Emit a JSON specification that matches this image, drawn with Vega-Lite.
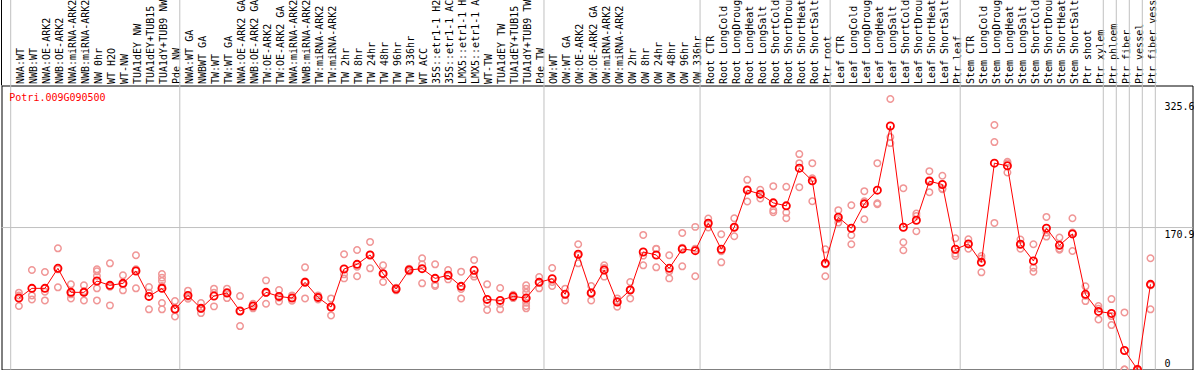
{
  "$schema": "https://vega.github.io/schema/vega-lite/v6.json",
  "width": 1191,
  "height": 284,
  "autosize": {"type": "none"},
  "padding": {"left": 1.5, "top": 85.5, "right": 1.5, "bottom": 0.5},
  "background": "white",
  "config": {
    "view": {"stroke": "black", "strokeWidth": 1},
    "font": "DejaVu Sans Mono",
    "axis": {"labelFont": "DejaVu Sans Mono", "labelFontSize": 10, "labelColor": "black", "title": null}
  },
  "datasets": {
    "mean": [
      {"c": "NWA:WT", "v": 86.0}, {"c": "NWB:WT", "v": 97.7}, {"c": "NWA:OE-ARK2", "v": 97.7}, {"c": "NWB:OE-ARK2", "v": 121.8},
      {"c": "NWA:miRNA-ARK2", "v": 92.9}, {"c": "NWB:miRNA-ARK2", "v": 92.9}, {"c": "NW 0hr", "v": 106.5}, {"c": "WT H2O", "v": 101.3},
      {"c": "WT-NW", "v": 103.7}, {"c": "TUA1dEY NW", "v": 118.6}, {"c": "TUA1dEY+TUB15 NW", "v": 88.0}, {"c": "TUA1dY+TUB9 NW", "v": 97.7},
      {"c": "Pde NW", "v": 72.8}, {"c": "NWA:WT GA", "v": 89.2}, {"c": "NWBWT GA", "v": 73.6}, {"c": "TW:WT", "v": 88.4},
      {"c": "TW:WT GA", "v": 92.1}, {"c": "NWA:OE-ARK2 GA", "v": 70.4}, {"c": "NWB:OE-ARK2 GA", "v": 76.4}, {"c": "TW:OE-ARK2", "v": 92.9},
      {"c": "TW:OE-ARK2 GA", "v": 88.0}, {"c": "NWA:miRNA-ARK2 GA", "v": 86.0}, {"c": "NWB:miRNA-ARK2 GA", "v": 104.9}, {"c": "TW:miRNA-ARK2", "v": 86.8},
      {"c": "TW:miRNA-ARK2 GA", "v": 75.2}, {"c": "TW 2hr", "v": 121.0}, {"c": "TW 8hr", "v": 126.6}, {"c": "TW 24hr", "v": 137.9},
      {"c": "TW 48hr", "v": 115.4}, {"c": "TW 96hr", "v": 96.9}, {"c": "TW 336hr", "v": 119.8}, {"c": "WT ACC", "v": 121.4},
      {"c": "35S::etr1-1 H2O", "v": 109.7}, {"c": "35S::etr1-1 ACC", "v": 113.4}, {"c": "LMX5::etr1-1 H2O", "v": 100.1}, {"c": "LMX5::etr1-1 ACC", "v": 119.4},
      {"c": "WT-TW", "v": 84.4}, {"c": "TUA1dEY TW", "v": 83.2}, {"c": "TUA1dEY+TUB15 TW", "v": 88.0}, {"c": "TUA1dY+TUB9 TW", "v": 86.0},
      {"c": "Pde TW", "v": 104.9}, {"c": "OW:WT", "v": 109.3}, {"c": "OW:WT GA", "v": 90.5}, {"c": "OW:OE-ARK2", "v": 138.7},
      {"c": "OW:OE-ARK2 GA", "v": 92.1}, {"c": "OW:miRNA-ARK2", "v": 119.8}, {"c": "OW:miRNA-ARK2 GA", "v": 81.2}, {"c": "OW 2hr", "v": 95.7},
      {"c": "OW 8hr", "v": 141.5}, {"c": "OW 24hr", "v": 137.9}, {"c": "OW 48hr", "v": 121.8}, {"c": "OW 96hr", "v": 145.1},
      {"c": "OW 336hr", "v": 143.1}, {"c": "Root CTR", "v": 176.1}, {"c": "Root LongCold", "v": 144.7}, {"c": "Root LongDrought", "v": 171.3},
      {"c": "Root LongHeat", "v": 215.9}, {"c": "Root LongSalt", "v": 211.1}, {"c": "Root ShortCold", "v": 200.6}, {"c": "Root ShortDrought", "v": 197.0},
      {"c": "Root ShortHeat", "v": 242.4}, {"c": "Root ShortSalt", "v": 227.1}, {"c": "Ptr root", "v": 127.8}, {"c": "Leaf CTR", "v": 183.3},
      {"c": "Leaf LongCold", "v": 170.0}, {"c": "Leaf LongDrought", "v": 199.4}, {"c": "Leaf LongHeat", "v": 215.9}, {"c": "Leaf LongSalt", "v": 293.1},
      {"c": "Leaf ShortCold", "v": 171.3}, {"c": "Leaf ShortDrought", "v": 179.7}, {"c": "Leaf ShortHeat", "v": 226.7}, {"c": "Leaf ShortSalt", "v": 222.7},
      {"c": "Ptr leaf", "v": 144.7}, {"c": "Stem CTR", "v": 151.2}, {"c": "Stem LongCold", "v": 129.0}, {"c": "Stem LongDrought", "v": 248.4},
      {"c": "Stem LongHeat", "v": 245.2}, {"c": "Stem LongSalt", "v": 150.8}, {"c": "Stem ShortCold", "v": 130.7}, {"c": "Stem ShortDrought", "v": 170.0},
      {"c": "Stem ShortHeat", "v": 149.5}, {"c": "Stem ShortSalt", "v": 163.2}, {"c": "Ptr shoot", "v": 90.5}, {"c": "Ptr xylem", "v": 69.9},
      {"c": "Ptr phloem", "v": 67.5}, {"c": "Ptr fiber", "v": 22.9}, {"c": "Ptr vessel", "v": 0}, {"c": "Ptr fiber vessel", "v": 102.5}
    ],
    "rep": [
      {"c": "NWA:WT", "v": 92.5}, {"c": "NWA:WT", "v": 89.2}, {"c": "NWA:WT", "v": 76.4},
      {"c": "NWB:WT", "v": 119.8}, {"c": "NWB:WT", "v": 89.2}, {"c": "NWB:WT", "v": 84.4},
      {"c": "NWA:OE-ARK2", "v": 117.4}, {"c": "NWA:OE-ARK2", "v": 93.7}, {"c": "NWA:OE-ARK2", "v": 83.2},
      {"c": "NWB:OE-ARK2", "v": 145.9}, {"c": "NWB:OE-ARK2", "v": 120.6}, {"c": "NWB:OE-ARK2", "v": 98.9},
      {"c": "NWA:miRNA-ARK2", "v": 102.5}, {"c": "NWA:miRNA-ARK2", "v": 90.5}, {"c": "NWA:miRNA-ARK2", "v": 85.6},
      {"c": "NWB:miRNA-ARK2", "v": 101.3}, {"c": "NWB:miRNA-ARK2", "v": 94.1}, {"c": "NWB:miRNA-ARK2", "v": 83.2},
      {"c": "NW 0hr", "v": 120.6}, {"c": "NW 0hr", "v": 118.2}, {"c": "NW 0hr", "v": 112.6}, {"c": "NW 0hr", "v": 97.7}, {"c": "NW 0hr", "v": 83.2},
      {"c": "WT H2O", "v": 127.8}, {"c": "WT H2O", "v": 99.7}, {"c": "WT H2O", "v": 77.2},
      {"c": "WT-NW", "v": 113.4}, {"c": "WT-NW", "v": 102.5}, {"c": "WT-NW", "v": 95.3},
      {"c": "TUA1dEY NW", "v": 137.5}, {"c": "TUA1dEY NW", "v": 120.6}, {"c": "TUA1dEY NW", "v": 97.7},
      {"c": "TUA1dEY+TUB15 NW", "v": 99.3}, {"c": "TUA1dEY+TUB15 NW", "v": 92.5}, {"c": "TUA1dEY+TUB15 NW", "v": 72.4},
      {"c": "TUA1dY+TUB9 NW", "v": 115.0}, {"c": "TUA1dY+TUB9 NW", "v": 110.6}, {"c": "TUA1dY+TUB9 NW", "v": 106.5}, {"c": "TUA1dY+TUB9 NW", "v": 100.5}, {"c": "TUA1dY+TUB9 NW", "v": 80.0}, {"c": "TUA1dY+TUB9 NW", "v": 72.4},
      {"c": "Pde NW", "v": 82.4}, {"c": "Pde NW", "v": 72.0}, {"c": "Pde NW", "v": 63.9},
      {"c": "NWA:WT GA", "v": 94.9}, {"c": "NWA:WT GA", "v": 87.6}, {"c": "NWA:WT GA", "v": 85.2},
      {"c": "NWBWT GA", "v": 80.0}, {"c": "NWBWT GA", "v": 72.8}, {"c": "NWBWT GA", "v": 67.9},
      {"c": "TW:WT", "v": 97.3}, {"c": "TW:WT", "v": 92.5}, {"c": "TW:WT", "v": 76.0},
      {"c": "TW:WT GA", "v": 97.3}, {"c": "TW:WT GA", "v": 93.3}, {"c": "TW:WT GA", "v": 86.0},
      {"c": "NWA:OE-ARK2 GA", "v": 88.4}, {"c": "NWA:OE-ARK2 GA", "v": 70.4}, {"c": "NWA:OE-ARK2 GA", "v": 52.3},
      {"c": "NWB:OE-ARK2 GA", "v": 79.2}, {"c": "NWB:OE-ARK2 GA", "v": 76.4}, {"c": "NWB:OE-ARK2 GA", "v": 73.6},
      {"c": "TW:OE-ARK2", "v": 107.3}, {"c": "TW:OE-ARK2", "v": 92.1}, {"c": "TW:OE-ARK2", "v": 79.2},
      {"c": "TW:OE-ARK2 GA", "v": 95.7}, {"c": "TW:OE-ARK2 GA", "v": 86.4}, {"c": "TW:OE-ARK2 GA", "v": 82.0},
      {"c": "NWA:miRNA-ARK2 GA", "v": 89.2}, {"c": "NWA:miRNA-ARK2 GA", "v": 86.0}, {"c": "NWA:miRNA-ARK2 GA", "v": 82.8},
      {"c": "NWB:miRNA-ARK2 GA", "v": 123.0}, {"c": "NWB:miRNA-ARK2 GA", "v": 106.1}, {"c": "NWB:miRNA-ARK2 GA", "v": 85.6},
      {"c": "TW:miRNA-ARK2", "v": 89.2}, {"c": "TW:miRNA-ARK2", "v": 86.8}, {"c": "TW:miRNA-ARK2", "v": 84.4},
      {"c": "TW:miRNA-ARK2 GA", "v": 85.6}, {"c": "TW:miRNA-ARK2 GA", "v": 74.8}, {"c": "TW:miRNA-ARK2 GA", "v": 65.1},
      {"c": "TW 2hr", "v": 138.7}, {"c": "TW 2hr", "v": 114.6}, {"c": "TW 2hr", "v": 109.7},
      {"c": "TW 8hr", "v": 143.9}, {"c": "TW 8hr", "v": 123.8}, {"c": "TW 8hr", "v": 112.2},
      {"c": "TW 24hr", "v": 153.6}, {"c": "TW 24hr", "v": 138.3}, {"c": "TW 24hr", "v": 121.8},
      {"c": "TW 48hr", "v": 125.4}, {"c": "TW 48hr", "v": 115.4}, {"c": "TW 48hr", "v": 105.3},
      {"c": "TW 96hr", "v": 98.5}, {"c": "TW 96hr", "v": 96.9}, {"c": "TW 96hr", "v": 95.3},
      {"c": "TW 336hr", "v": 121.4}, {"c": "TW 336hr", "v": 119.8}, {"c": "TW 336hr", "v": 118.2},
      {"c": "WT ACC", "v": 133.9}, {"c": "WT ACC", "v": 126.6}, {"c": "WT ACC", "v": 103.7},
      {"c": "35S::etr1-1 H2O", "v": 126.6}, {"c": "35S::etr1-1 H2O", "v": 102.1}, {"c": "35S::etr1-1 H2O", "v": 100.5},
      {"c": "35S::etr1-1 ACC", "v": 119.8}, {"c": "35S::etr1-1 ACC", "v": 112.6}, {"c": "35S::etr1-1 ACC", "v": 108.5},
      {"c": "LMX5::etr1-1 H2O", "v": 117.8}, {"c": "LMX5::etr1-1 H2O", "v": 96.9}, {"c": "LMX5::etr1-1 H2O", "v": 85.6},
      {"c": "LMX5::etr1-1 ACC", "v": 131.9}, {"c": "LMX5::etr1-1 ACC", "v": 114.6}, {"c": "LMX5::etr1-1 ACC", "v": 111.8},
      {"c": "WT-TW", "v": 102.5}, {"c": "WT-TW", "v": 79.6}, {"c": "WT-TW", "v": 71.6},
      {"c": "TUA1dEY TW", "v": 98.1}, {"c": "TUA1dEY TW", "v": 79.2}, {"c": "TUA1dEY TW", "v": 72.4},
      {"c": "TUA1dEY+TUB15 TW", "v": 90.0}, {"c": "TUA1dEY+TUB15 TW", "v": 88.0}, {"c": "TUA1dEY+TUB15 TW", "v": 86.0},
      {"c": "TUA1dY+TUB9 TW", "v": 101.3}, {"c": "TUA1dY+TUB9 TW", "v": 97.3}, {"c": "TUA1dY+TUB9 TW", "v": 92.5}, {"c": "TUA1dY+TUB9 TW", "v": 84.4}, {"c": "TUA1dY+TUB9 TW", "v": 80.4}, {"c": "TUA1dY+TUB9 TW", "v": 76.4}, {"c": "TUA1dY+TUB9 TW", "v": 73.6},
      {"c": "Pde TW", "v": 111.4}, {"c": "Pde TW", "v": 105.7}, {"c": "Pde TW", "v": 97.7},
      {"c": "OW:WT", "v": 122.2}, {"c": "OW:WT", "v": 105.3}, {"c": "OW:WT", "v": 100.5},
      {"c": "OW:WT GA", "v": 97.3}, {"c": "OW:WT GA", "v": 90.9}, {"c": "OW:WT GA", "v": 83.2},
      {"c": "OW:OE-ARK2", "v": 150.8}, {"c": "OW:OE-ARK2", "v": 137.5}, {"c": "OW:OE-ARK2", "v": 127.8},
      {"c": "OW:OE-ARK2 GA", "v": 100.5}, {"c": "OW:OE-ARK2 GA", "v": 92.5}, {"c": "OW:OE-ARK2 GA", "v": 83.2},
      {"c": "OW:miRNA-ARK2", "v": 125.4}, {"c": "OW:miRNA-ARK2", "v": 122.2}, {"c": "OW:miRNA-ARK2", "v": 111.8},
      {"c": "OW:miRNA-ARK2 GA", "v": 85.6}, {"c": "OW:miRNA-ARK2 GA", "v": 82.4}, {"c": "OW:miRNA-ARK2 GA", "v": 75.6},
      {"c": "OW 2hr", "v": 105.3}, {"c": "OW 2hr", "v": 96.1}, {"c": "OW 2hr", "v": 85.6},
      {"c": "OW 8hr", "v": 162.0}, {"c": "OW 8hr", "v": 137.1}, {"c": "OW 8hr", "v": 125.4},
      {"c": "OW 24hr", "v": 145.5}, {"c": "OW 24hr", "v": 145.1}, {"c": "OW 24hr", "v": 123.0},
      {"c": "OW 48hr", "v": 137.5}, {"c": "OW 48hr", "v": 118.2}, {"c": "OW 48hr", "v": 109.7},
      {"c": "OW 96hr", "v": 164.4}, {"c": "OW 96hr", "v": 146.7}, {"c": "OW 96hr", "v": 124.2},
      {"c": "OW 336hr", "v": 171.7}, {"c": "OW 336hr", "v": 145.5}, {"c": "OW 336hr", "v": 112.2},
      {"c": "Root CTR", "v": 181.7}, {"c": "Root CTR", "v": 175.7}, {"c": "Root CTR", "v": 170.9},
      {"c": "Root LongCold", "v": 162.8}, {"c": "Root LongCold", "v": 142.3}, {"c": "Root LongCold", "v": 129.0},
      {"c": "Root LongDrought", "v": 182.1}, {"c": "Root LongDrought", "v": 171.3}, {"c": "Root LongDrought", "v": 160.4},
      {"c": "Root LongHeat", "v": 228.3}, {"c": "Root LongHeat", "v": 217.1}, {"c": "Root LongHeat", "v": 202.2},
      {"c": "Root LongSalt", "v": 216.3}, {"c": "Root LongSalt", "v": 211.1}, {"c": "Root LongSalt", "v": 205.8},
      {"c": "Root ShortCold", "v": 220.7}, {"c": "Root ShortCold", "v": 191.8}, {"c": "Root ShortCold", "v": 189.3},
      {"c": "Root ShortDrought", "v": 219.9}, {"c": "Root ShortDrought", "v": 188.9}, {"c": "Root ShortDrought", "v": 182.1},
      {"c": "Root ShortHeat", "v": 259.3}, {"c": "Root ShortHeat", "v": 248.4}, {"c": "Root ShortHeat", "v": 219.5},
      {"c": "Root ShortSalt", "v": 248.4}, {"c": "Root ShortSalt", "v": 230.3}, {"c": "Root ShortSalt", "v": 202.6},
      {"c": "Ptr root", "v": 144.7}, {"c": "Ptr root", "v": 126.6}, {"c": "Ptr root", "v": 112.2},
      {"c": "Leaf CTR", "v": 191.8}, {"c": "Leaf CTR", "v": 181.3}, {"c": "Leaf CTR", "v": 176.9},
      {"c": "Leaf LongCold", "v": 197.8}, {"c": "Leaf LongCold", "v": 161.6}, {"c": "Leaf LongCold", "v": 150.8},
      {"c": "Leaf LongDrought", "v": 214.7}, {"c": "Leaf LongDrought", "v": 202.6}, {"c": "Leaf LongDrought", "v": 180.9},
      {"c": "Leaf LongHeat", "v": 248.4}, {"c": "Leaf LongHeat", "v": 200.2}, {"c": "Leaf LongHeat", "v": 199.0},
      {"c": "Leaf LongSalt", "v": 325.6}, {"c": "Leaf LongSalt", "v": 279.8}, {"c": "Leaf LongSalt", "v": 272.6},
      {"c": "Leaf ShortCold", "v": 218.3}, {"c": "Leaf ShortCold", "v": 153.2}, {"c": "Leaf ShortCold", "v": 143.5},
      {"c": "Leaf ShortDrought", "v": 187.7}, {"c": "Leaf ShortDrought", "v": 184.9}, {"c": "Leaf ShortDrought", "v": 166.4},
      {"c": "Leaf ShortHeat", "v": 238.8}, {"c": "Leaf ShortHeat", "v": 227.9}, {"c": "Leaf ShortHeat", "v": 213.5},
      {"c": "Leaf ShortSalt", "v": 233.2}, {"c": "Leaf ShortSalt", "v": 217.9}, {"c": "Leaf ShortSalt", "v": 217.1},
      {"c": "Ptr leaf", "v": 158.0}, {"c": "Ptr leaf", "v": 139.5}, {"c": "Ptr leaf", "v": 136.7},
      {"c": "Stem CTR", "v": 156.8}, {"c": "Stem CTR", "v": 151.2}, {"c": "Stem CTR", "v": 145.5},
      {"c": "Stem LongCold", "v": 136.7}, {"c": "Stem LongCold", "v": 133.5}, {"c": "Stem LongCold", "v": 117.0},
      {"c": "Stem LongDrought", "v": 294.3}, {"c": "Stem LongDrought", "v": 273.8}, {"c": "Stem LongDrought", "v": 176.5},
      {"c": "Stem LongHeat", "v": 250.0}, {"c": "Stem LongHeat", "v": 248.4}, {"c": "Stem LongHeat", "v": 237.2},
      {"c": "Stem LongSalt", "v": 156.4}, {"c": "Stem LongSalt", "v": 150.8}, {"c": "Stem LongSalt", "v": 145.5},
      {"c": "Stem ShortCold", "v": 150.8}, {"c": "Stem ShortCold", "v": 122.6}, {"c": "Stem ShortCold", "v": 117.8},
      {"c": "Stem ShortDrought", "v": 183.7}, {"c": "Stem ShortDrought", "v": 164.8}, {"c": "Stem ShortDrought", "v": 160.0},
      {"c": "Stem ShortHeat", "v": 158.8}, {"c": "Stem ShortHeat", "v": 145.5}, {"c": "Stem ShortHeat", "v": 144.3},
      {"c": "Stem ShortSalt", "v": 182.1}, {"c": "Stem ShortSalt", "v": 164.8}, {"c": "Stem ShortSalt", "v": 142.7},
      {"c": "Ptr shoot", "v": 100.1}, {"c": "Ptr shoot", "v": 88.8}, {"c": "Ptr shoot", "v": 82.4},
      {"c": "Ptr xylem", "v": 76.4}, {"c": "Ptr xylem", "v": 73.2}, {"c": "Ptr xylem", "v": 60.3},
      {"c": "Ptr phloem", "v": 84.8}, {"c": "Ptr phloem", "v": 64.3}, {"c": "Ptr phloem", "v": 53.5},
      {"c": "Ptr fiber", "v": 68.7}, {"c": "Ptr fiber", "v": 0}, {"c": "Ptr fiber", "v": 0},
      {"c": "Ptr vessel", "v": 0}, {"c": "Ptr vessel", "v": 0}, {"c": "Ptr vessel", "v": 0},
      {"c": "Ptr fiber vessel", "v": 133.9}, {"c": "Ptr fiber vessel", "v": 101.3}, {"c": "Ptr fiber vessel", "v": 72.4}
    ],
    "sep": [
      {"c": "NWA:WT"}, {"c": "NWA:WT GA"}, {"c": "OW:WT"}, {"c": "Root CTR"}, {"c": "Leaf CTR"},
      {"c": "Stem CTR"}, {"c": "Ptr phloem"}, {"c": "Ptr fiber"}, {"c": "Ptr vessel"}, {"c": "Ptr fiber vessel"}
    ],
    "sepEnd": [{"c": "Ptr fiber vessel"}],
    "frameLeft": [{"c": "NWA:WT"}],
    "gene": [{"c": "NWA:WT", "t": "Potri.009G090500"}],
    "grid": [{"g": 170.9}]
  },
  "layer": [
    {
      "data": {"name": "mean"},
      "mark": {"type": "point", "shape": "circle", "filled": false, "stroke": "#ff0000", "strokeWidth": 1.8, "size": 50, "opacity": 0},
      "encoding": {
        "x": {
          "field": "c", "type": "nominal", "bandPosition": 0.63,
          "scale": {
            "type": "band", "range": [9.2, 1153.8], "paddingInner": 0, "paddingOuter": 0,
            "domain": ["NWA:WT","NWB:WT","NWA:OE-ARK2","NWB:OE-ARK2","NWA:miRNA-ARK2","NWB:miRNA-ARK2","NW 0hr","WT H2O","WT-NW","TUA1dEY NW","TUA1dEY+TUB15 NW","TUA1dY+TUB9 NW","Pde NW","NWA:WT GA","NWBWT GA","TW:WT","TW:WT GA","NWA:OE-ARK2 GA","NWB:OE-ARK2 GA","TW:OE-ARK2","TW:OE-ARK2 GA","NWA:miRNA-ARK2 GA","NWB:miRNA-ARK2 GA","TW:miRNA-ARK2","TW:miRNA-ARK2 GA","TW 2hr","TW 8hr","TW 24hr","TW 48hr","TW 96hr","TW 336hr","WT ACC","35S::etr1-1 H2O","35S::etr1-1 ACC","LMX5::etr1-1 H2O","LMX5::etr1-1 ACC","WT-TW","TUA1dEY TW","TUA1dEY+TUB15 TW","TUA1dY+TUB9 TW","Pde TW","OW:WT","OW:WT GA","OW:OE-ARK2","OW:OE-ARK2 GA","OW:miRNA-ARK2","OW:miRNA-ARK2 GA","OW 2hr","OW 8hr","OW 24hr","OW 48hr","OW 96hr","OW 336hr","Root CTR","Root LongCold","Root LongDrought","Root LongHeat","Root LongSalt","Root ShortCold","Root ShortDrought","Root ShortHeat","Root ShortSalt","Ptr root","Leaf CTR","Leaf LongCold","Leaf LongDrought","Leaf LongHeat","Leaf LongSalt","Leaf ShortCold","Leaf ShortDrought","Leaf ShortHeat","Leaf ShortSalt","Ptr leaf","Stem CTR","Stem LongCold","Stem LongDrought","Stem LongHeat","Stem LongSalt","Stem ShortCold","Stem ShortDrought","Stem ShortHeat","Stem ShortSalt","Ptr shoot","Ptr xylem","Ptr phloem","Ptr fiber","Ptr vessel","Ptr fiber vessel"]
          },
          "axis": {
            "orient": "top", "title": null, "bandPosition": 0.63,
            "labelAngle": -90, "labelAlign": "left", "labelBaseline": "middle",
            "labelPadding": 2, "labelOffset": 4, "labelOverlap": false, "labelLimit": 0,
            "ticks": false, "domain": false, "grid": false,
            "labelFont": "DejaVu Sans Mono", "labelFontSize": 10, "labelColor": "black"
          }
        },
        "y": {
          "field": "v", "type": "quantitative",
          "scale": {"domain": [0, 341.9], "nice": false, "zero": false},
          "axis": {
            "orient": "right", "title": null, "values": [0, 170.9, 325.6],
            "labelExpr": "'' + datum.value",
            "ticks": false, "domain": false, "grid": false,
            "labelAlign": "left", "labelPadding": -28.5, "labelBaseline": "alphabetic",
            "labelOffset": {"condition": {"test": "datum.value === 0", "value": -3.5}, "value": 10},
            "labelFont": "DejaVu Sans Mono", "labelFontSize": 10, "labelColor": "black"
          }
        }
      }
    },
    {
      "data": {"name": "sep"},
      "mark": {"type": "rule", "color": "#c0c0c0", "strokeWidth": 1},
      "encoding": {
        "x": {"field": "c", "type": "nominal", "bandPosition": 0, "scale": {"type": "band"}},
        "y": {"datum": 0, "type": "quantitative"},
        "y2": {"datum": 460}
      }
    },
    {
      "data": {"name": "sepEnd"},
      "mark": {"type": "rule", "color": "#c0c0c0", "strokeWidth": 1},
      "encoding": {
        "x": {"field": "c", "type": "nominal", "bandPosition": 1, "scale": {"type": "band"}},
        "y": {"datum": 0, "type": "quantitative"},
        "y2": {"datum": 460}
      }
    },
    {
      "data": {"name": "frameLeft"},
      "mark": {"type": "rule", "color": "black", "strokeWidth": 1, "xOffset": -9.2},
      "encoding": {
        "x": {"field": "c", "type": "nominal", "bandPosition": 0, "scale": {"type": "band"}},
        "y": {"datum": 341.9, "type": "quantitative"},
        "y2": {"datum": 460}
      }
    },
    {
      "data": {"name": "grid"},
      "mark": {"type": "rule", "color": "#c0c0c0", "strokeWidth": 1},
      "encoding": {
        "y": {"field": "g", "type": "quantitative"}
      }
    },
    {
      "data": {"name": "rep"},
      "mark": {"type": "point", "shape": "circle", "filled": false, "stroke": "#f09696", "strokeWidth": 1.5, "size": 42, "opacity": 1},
      "encoding": {
        "x": {"field": "c", "type": "nominal", "bandPosition": 0.63, "scale": {"type": "band"}},
        "y": {"field": "v", "type": "quantitative"}
      }
    },
    {
      "data": {"name": "mean"},
      "mark": {"type": "line", "color": "#ff0000", "strokeWidth": 1},
      "encoding": {
        "x": {"field": "c", "type": "nominal", "bandPosition": 0.63, "scale": {"type": "band"}},
        "y": {"field": "v", "type": "quantitative"},
        "order": {"value": null}
      }
    },
    {
      "data": {"name": "mean"},
      "mark": {"type": "point", "shape": "circle", "filled": false, "stroke": "#ff0000", "strokeWidth": 1.8, "size": 52, "opacity": 1},
      "encoding": {
        "x": {"field": "c", "type": "nominal", "bandPosition": 0.63, "scale": {"type": "band"}},
        "y": {"field": "v", "type": "quantitative"}
      }
    },
    {
      "data": {"name": "gene"},
      "mark": {"type": "text", "color": "#ff0000", "font": "DejaVu Sans Mono", "fontSize": 10, "align": "left", "baseline": "alphabetic", "dx": -1.4, "dy": 15.5},
      "encoding": {
        "x": {"field": "c", "type": "nominal", "bandPosition": 0, "scale": {"type": "band"}},
        "y": {"datum": 341.9, "type": "quantitative"},
        "text": {"field": "t"}
      }
    }
  ]
}
